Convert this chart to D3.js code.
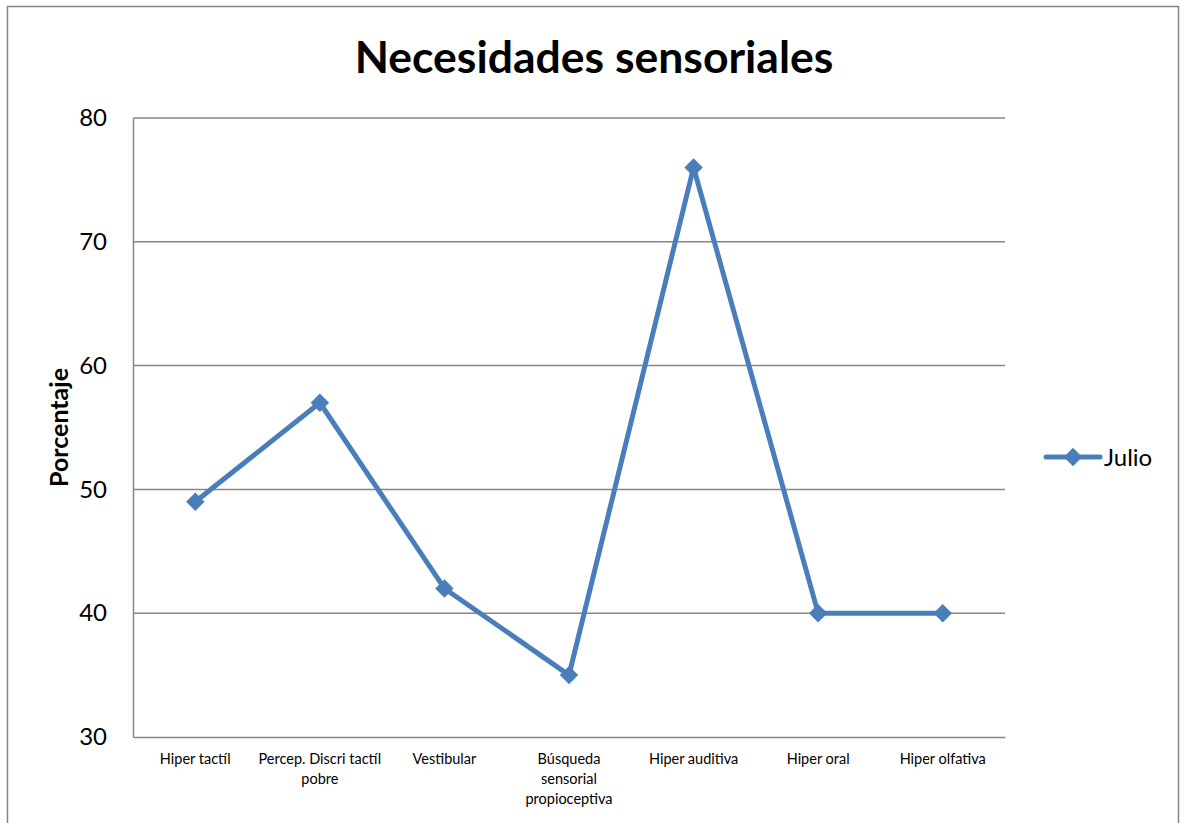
<!DOCTYPE html>
<html><head><meta charset="utf-8">
<script src="https://cdn.jsdelivr.net/npm/d3@7"></script>
<style>body{margin:0;background:#fff}svg{display:block}</style>
</head><body>
<svg id="c" width="1181" height="823"></svg>
<script>
const categories = [["Hiper tactíl"],["Percep. Discri tactíl","pobre"],["Vestibular"],["Búsqueda","sensorial","propioceptiva"],["Hiper auditiva"],["Hiper oral"],["Hiper olfativa"]];
const values = [49, 57, 42, 35, 76, 40, 40];
const yTicks = [30, 40, 50, 60, 70, 80];
const seriesName = "Julio";
const title = "Necesidades sensoriales";
const yLabel = "Porcentaje";

const font = "Lato, 'Open Sans', sans-serif";
const blue = "#4a7ebb";
const grey = "#868686";
const svg = d3.select("#c");

svg.append("rect").attr("x", 7.5).attr("y", 6.5).attr("width", 1171).attr("height", 830)
  .attr("fill", "#fff").attr("stroke", grey).attr("stroke-width", 1.5);

const L = 133, R = 1005, T = 118, B = 737;
const idx = categories.map((d, i) => i);
const x = d3.scaleBand().domain(idx).range([L, R]);
const y = d3.scaleLinear().domain([30, 80]).range([B, T]);

// gridlines
svg.append("g").selectAll("line").data(yTicks.filter(t => t > 30)).join("line")
  .attr("x1", L).attr("x2", R).attr("y1", d => y(d)).attr("y2", d => y(d))
  .attr("stroke", grey).attr("stroke-width", 1.5);

// y axis
const ya = svg.append("g").attr("transform", `translate(${L},0)`)
  .call(d3.axisLeft(y).tickValues(yTicks).tickSize(0).tickPadding(26));
ya.select(".domain").attr("stroke", grey).attr("stroke-width", 1.5);
ya.selectAll("text").attr("font-family", font).attr("font-size", 24).attr("fill", "#000");

// x axis
const xa = svg.append("g").attr("transform", `translate(0,${B})`)
  .call(d3.axisBottom(x).tickSize(0).tickFormat(""));
xa.select(".domain").attr("stroke", grey).attr("stroke-width", 1.5);
xa.selectAll(".tick").each(function(d) {
  const t = d3.select(this).append("text").attr("font-family", font).attr("font-size", 14.5)
    .attr("fill", "#000").attr("text-anchor", "middle");
  categories[d].forEach((ln, k) => t.append("tspan").attr("x", 0).attr("y", 27 + k * 20).text(ln));
});

const cx = i => x(i) + x.bandwidth() / 2;
svg.append("path").datum(values)
  .attr("d", d3.line().x((d, i) => cx(i)).y(d => y(d)))
  .attr("fill", "none").attr("stroke", blue).attr("stroke-width", 5).attr("stroke-linejoin", "round");

const diamond = d3.symbol().type(d3.symbolSquare).size(170);
svg.append("g").selectAll("path").data(values).join("path")
  .attr("d", diamond)
  .attr("transform", (d, i) => `translate(${cx(i)},${y(d)}) rotate(45)`)
  .attr("fill", blue);

// title
svg.append("text").attr("x", 594).attr("y", 73).attr("text-anchor", "middle")
  .attr("font-family", font).attr("font-weight", "bold").attr("font-size", 44.5).text(title);

// y label
svg.append("text").attr("transform", `translate(68,${(T + B) / 2}) rotate(-90)`)
  .attr("text-anchor", "middle").attr("font-family", font).attr("font-weight", "bold")
  .attr("font-size", 25).text(yLabel);

// legend
const lg = svg.append("g").attr("transform", "translate(1046,457)");
lg.append("line").attr("x1", 0).attr("x2", 54).attr("stroke", blue).attr("stroke-width", 5).attr("stroke-linecap", "round");
lg.append("path").attr("d", diamond).attr("transform", "translate(27,0) rotate(45)").attr("fill", blue);
lg.append("text").attr("x", 58).attr("y", 9).attr("font-family", font).attr("font-size", 24).text(seriesName);
</script>
</body></html>
